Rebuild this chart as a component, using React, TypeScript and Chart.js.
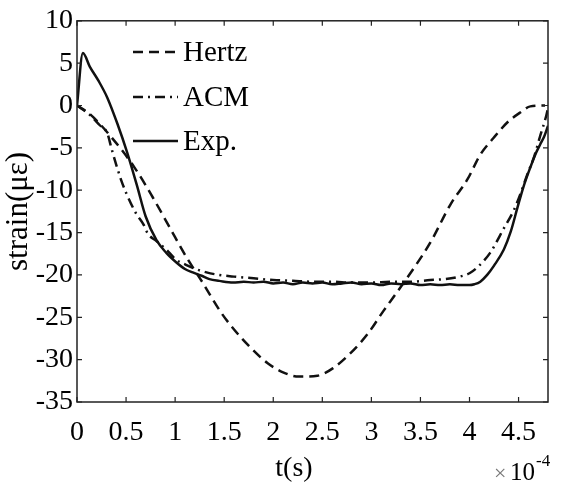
import React, { useEffect, useRef } from "react";
import { Chart, registerables } from "chart.js";

Chart.register(...registerables);

// x values are in units of 1e-4 s
const hertzT = [0, 0.13, 0.34, 0.585, 0.77, 0.94, 1.11, 1.28, 1.46, 1.59, 1.77, 1.94, 2.1, 2.26, 2.45, 2.61, 2.79, 2.96, 3.12, 3.27, 3.45, 3.6, 3.81, 3.98, 4.11, 4.24, 4.39, 4.52, 4.62, 4.77];
const hertzV = [0, -1.0, -3.6, -7.3, -10.8, -14.3, -17.8, -20.9, -24.3, -26.3, -28.6, -30.4, -31.5, -32.0, -31.9, -31.0, -29.2, -27.0, -24.3, -21.9, -18.9, -16.2, -11.6, -8.7, -5.8, -3.9, -1.95, -0.8, -0.1, 0];

const acmT = [0, 0.13, 0.23, 0.31, 0.35, 0.4, 0.45, 0.5, 0.6, 0.68, 0.72, 0.81, 0.91, 1.01, 1.11, 1.21, 1.32, 1.45, 1.6, 1.8, 2.0, 2.2, 2.4, 2.6, 2.8, 3.0, 3.2, 3.4, 3.6, 3.75, 3.9, 4.0, 4.08, 4.21, 4.35, 4.45, 4.52, 4.59, 4.66, 4.72, 4.78, 4.8];
const acmV = [0, -1.1, -2.3, -3.3, -5.0, -7.0, -8.8, -10.3, -12.7, -14.1, -15.1, -16.0, -17.0, -18.2, -18.8, -19.3, -19.7, -20.0, -20.2, -20.4, -20.6, -20.7, -20.8, -20.8, -20.9, -20.9, -20.8, -20.8, -20.6, -20.5, -20.2, -19.8, -19.1, -17.4, -14.5, -12.4, -10.4, -8.1, -6.0, -3.6, -1.3, -0.3];

const expT = [0, 0.06, 0.13, 0.22, 0.31, 0.41, 0.51, 0.61, 0.7, 0.81, 0.91, 1.01, 1.1, 1.18, 1.27, 1.35, 1.45, 1.59, 1.7, 1.8, 1.9, 2.0, 2.1, 2.2, 2.3, 2.4, 2.5, 2.6, 2.7, 2.8, 2.9, 3.0, 3.1, 3.2, 3.3, 3.4, 3.5, 3.6, 3.7, 3.8, 3.9, 4.0, 4.05, 4.11, 4.18, 4.25, 4.35, 4.42, 4.49, 4.55, 4.62, 4.67, 4.72, 4.76, 4.8];
const expV = [0, 6.2, 4.6, 2.9, 0.9, -2.1, -5.5, -9.4, -13.1, -15.9, -17.4, -18.5, -19.3, -19.7, -20.1, -20.5, -20.7, -20.9, -20.8, -20.9, -20.8, -21.0, -20.9, -21.1, -20.9, -21.0, -20.9, -21.1, -21.0, -20.9, -21.1, -21.0, -21.2, -21.0, -21.1, -21.0, -21.2, -21.1, -21.2, -21.1, -21.2, -21.2, -21.1, -20.8, -20.0, -18.9, -17.0, -14.9, -12.0, -9.6, -7.3, -5.8, -4.6, -3.7, -2.4];

const seriesNames = ["Hertz", "ACM", "Exp."];
const xTicks = [0, 0.5, 1, 1.5, 2, 2.5, 3, 3.5, 4, 4.5];
const xTickLabels = ["0", "0.5", "1", "1.5", "2", "2.5", "3", "3.5", "4", "4.5"];
const yTicks = [-35, -30, -25, -20, -15, -10, -5, 0, 5, 10];
const xTitle = "t(s)";
const yTitle = "strain(με)";
const xExponent = "-4";

const FONT = "'Liberation Serif', 'Times New Roman', serif";

const toPts = (t: number[], v: number[]) => t.map((x, i) => ({ x, y: v[i] }));

const framePlugin = {
  id: "frameAndLegend",
  afterDraw(chart: any) {
    const { ctx, chartArea, scales } = chart;
    const { left, right, top, bottom } = chartArea;
    const xs = scales.x;
    const ys = scales.y;
    ctx.save();
    ctx.strokeStyle = "#222";
    ctx.lineWidth = 1.5;
    ctx.strokeRect(left, top, right - left, bottom - top);
    ctx.lineWidth = 1.2;
    const tl = 5;
    ctx.beginPath();
    xs.ticks.forEach((t: any) => {
      const px = xs.getPixelForValue(t.value);
      ctx.moveTo(px, bottom);
      ctx.lineTo(px, bottom - tl);
      ctx.moveTo(px, top);
      ctx.lineTo(px, top + tl);
    });
    ys.ticks.forEach((t: any) => {
      const py = ys.getPixelForValue(t.value);
      ctx.moveTo(left, py);
      ctx.lineTo(left + tl, py);
      ctx.moveTo(right, py);
      ctx.lineTo(right - tl, py);
    });
    ctx.stroke();

    // legend
    const lx0 = 133;
    const lx1 = 178;
    const rows = [52, 97, 141];
    chart.data.datasets.forEach((ds: any, i: number) => {
      const y = rows[i];
      ctx.save();
      ctx.strokeStyle = ds.borderColor;
      ctx.lineWidth = ds.borderWidth;
      ctx.setLineDash(ds.borderDash || []);
      ctx.beginPath();
      ctx.moveTo(lx0, y);
      ctx.lineTo(lx1, y);
      ctx.stroke();
      ctx.restore();
      ctx.fillStyle = "#000";
      ctx.font = `29px ${FONT}`;
      ctx.textBaseline = "middle";
      ctx.textAlign = "left";
      ctx.fillText(ds.label, lx1 + 5, y + 1);
    });

    // x title
    ctx.fillStyle = "#000";
    ctx.font = `28px ${FONT}`;
    ctx.textAlign = "center";
    ctx.textBaseline = "middle";
    ctx.fillText(xTitle, 294, 469);

    // exponent
    ctx.textAlign = "left";
    ctx.fillStyle = "#777";
    ctx.font = `22px ${FONT}`;
    ctx.fillText("×", 494, 474);
    ctx.fillStyle = "#000";
    ctx.font = `25px ${FONT}`;
    ctx.fillText("10", 510, 473);
    ctx.font = `17px ${FONT}`;
    ctx.fillText(xExponent, 536, 462);
    ctx.restore();
  },
};

export default function App() {
  const ref = useRef<HTMLCanvasElement | null>(null);
  useEffect(() => {
    if (!ref.current) return;
    const common = {
      borderColor: "#111",
      borderWidth: 2.5,
      pointRadius: 0,
      fill: false,
      cubicInterpolationMode: "monotone" as const,
    };
    const chart = new Chart(ref.current, {
      type: "line",
      data: {
        datasets: [
          { ...common, label: seriesNames[0], data: toPts(hertzT, hertzV), borderDash: [10, 6] },
          { ...common, label: seriesNames[1], data: toPts(acmT, acmV), borderDash: [10, 5, 2, 5] },
          { ...common, label: seriesNames[2], data: toPts(expT, expV), borderDash: [] },
        ],
      },
      options: {
        animation: false,
        responsive: false,
        maintainAspectRatio: false,
        layout: { padding: { top: 14, right: 16, left: 0, bottom: 0 } },
        plugins: { legend: { display: false }, tooltip: { enabled: false } },
        scales: {
          x: {
            type: "linear",
            min: 0,
            max: 4.8,
            grid: { display: false, drawTicks: false },
            border: { display: false },
            afterBuildTicks: (s: any) => {
              s.ticks = xTicks.map((v) => ({ value: v }));
            },
            afterFit: (s: any) => {
              s.height = 82;
            },
            ticks: {
              color: "#000",
              font: { family: FONT, size: 28 },
              padding: 14,
              maxRotation: 0,
              autoSkip: false,
              callback: (v: any) => {
                const i = xTicks.indexOf(Number(v));
                return i >= 0 ? xTickLabels[i] : "";
              },
            },
          },
          y: {
            type: "linear",
            min: -35,
            max: 10,
            grid: { display: false, drawTicks: false },
            border: { display: false },
            afterBuildTicks: (s: any) => {
              s.ticks = yTicks.map((v) => ({ value: v }));
            },
            afterFit: (s: any) => {
              s.width = 77;
            },
            title: {
              display: true,
              text: yTitle,
              color: "#000",
              font: { family: FONT, size: 31 },
              padding: { top: 0, bottom: 0 },
            },
            ticks: {
              color: "#000",
              font: { family: FONT, size: 28 },
              padding: 4,
              autoSkip: false,
              callback: (v: any) => String(v),
            },
          },
        },
      },
      plugins: [framePlugin],
    });
    return () => chart.destroy();
  }, []);
  return (
    <div style={{ position: "absolute", left: 0, top: 0, width: 564, height: 484, background: "#fff" }}>
      <canvas ref={ref} width={564} height={484} style={{ display: "block" }} />
    </div>
  );
}
